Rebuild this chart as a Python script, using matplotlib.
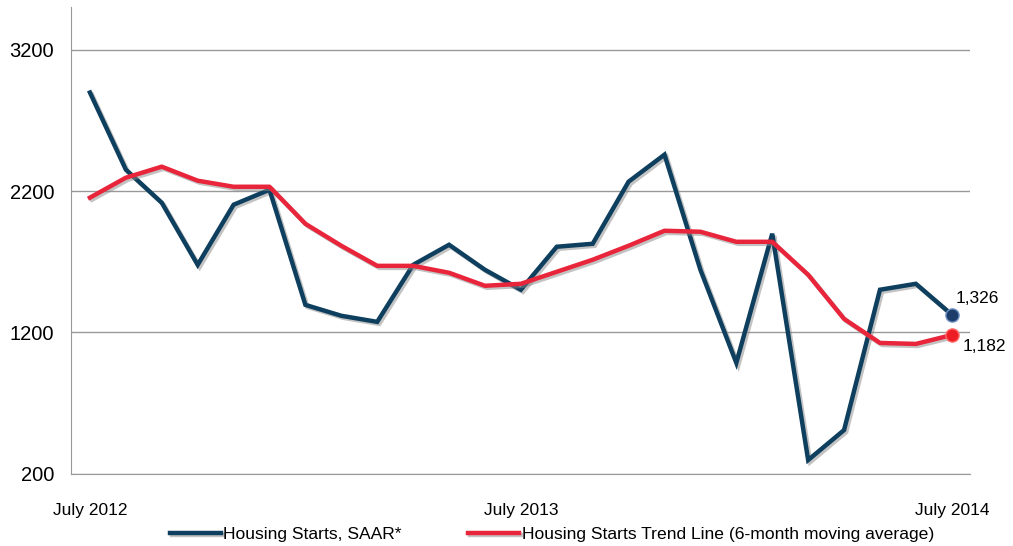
import numpy as np
import matplotlib.pyplot as plt
import matplotlib.patheffects as pe

plt.rcParams['font.family'] = ['Liberation Sans', 'DejaVu Sans']

# monthly data, July 2012 - July 2014
months = np.arange(25)
tick_pos = [0, 12, 24]
tick_labels = ["July 2012", "July 2013", "July 2014"]

starts = [2896, 2351, 2117, 1678, 2103, 2209, 1395, 1318, 1275, 1678, 1820, 1643,
          1502, 1806, 1827, 2266, 2457, 1643, 985, 1898, 298, 510, 1502, 1544, 1326]
trend = [2153, 2294, 2372, 2273, 2230, 2230, 1968, 1813, 1671, 1671, 1622, 1530,
         1544, 1629, 1714, 1813, 1919, 1912, 1841, 1841, 1608, 1296, 1126, 1119, 1182]

dark = "#0e3f5e"
red = "#e8253a"

fig = plt.figure(figsize=(10.13, 5.46), dpi=100)
ax = fig.add_axes([0.070, 0.132, 0.888, 0.855])

shadow = [pe.SimpleLineShadow(offset=(1.5, -1.5), shadow_color="#888888", alpha=0.5), pe.Normal()]

ax.plot(months, starts, color=dark, lw=3.2, solid_joinstyle="miter",
        path_effects=shadow, label="Housing Starts, SAAR*", zorder=3)
ax.plot(months, trend, color=red, lw=3.2, path_effects=shadow,
        label="Housing Starts Trend Line (6-month moving average)", zorder=4)

ax.scatter([months[-1]], [starts[-1]], s=90, color="#1d3c6a", edgecolor="#6c8fc2", lw=1, zorder=5)
ax.scatter([months[-1]], [trend[-1]], s=90, color="#ee1c25", edgecolor="#ff6a6a", lw=1, zorder=5)
ax.annotate("1,326", (months[-1], starts[-1]), xytext=(3, 6), textcoords="offset points",
            fontsize=12.5, ha="left", va="bottom")
ax.annotate("1,182", (months[-1], trend[-1]), xytext=(8, -3), textcoords="offset points",
            fontsize=12.5, ha="left", va="top")

ax.set_xlim(-0.53, 24.52)
ax.set_ylim(200, 3500)
ax.set_yticks([200, 1200, 2200, 3200])
ax.set_xticks(tick_pos)
ax.set_xticklabels(tick_labels)
ax.tick_params(axis="x", length=0, pad=21, labelsize=12.5)
ax.tick_params(axis="y", length=0, pad=12, labelsize=14.5)
ax.grid(axis="y", color="#999999", lw=1)
ax.set_axisbelow(True)
for s in ["top", "right"]:
    ax.spines[s].set_visible(False)
ax.spines["left"].set_color("#999999")
ax.spines["bottom"].set_color("#999999")

fig.legend(loc="lower center", bbox_to_anchor=(0.545, -0.022), ncol=2, frameon=False,
           fontsize=12.6, handlelength=2.9, handletextpad=0.15, columnspacing=3.8)

fig.savefig("out.png", dpi=100)
